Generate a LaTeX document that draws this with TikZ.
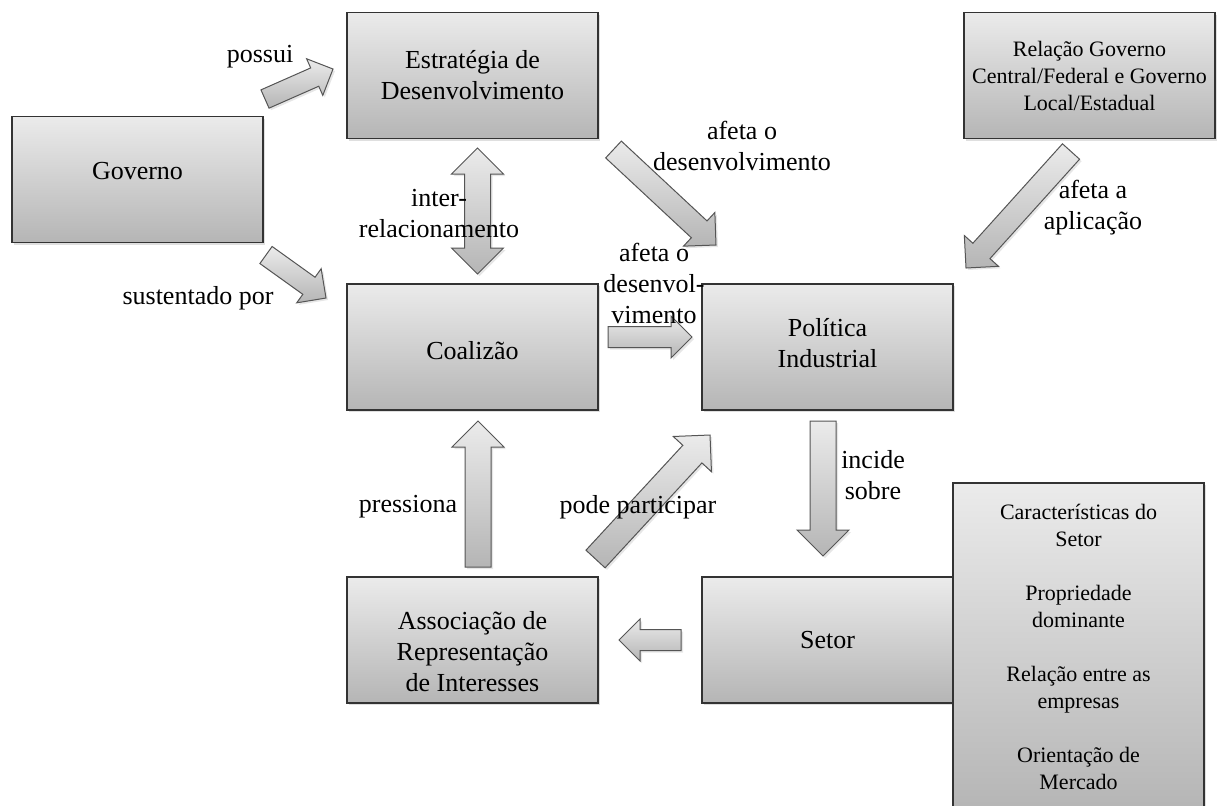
\documentclass[tikz,border=0pt]{standalone}
\usepackage{fontspec}
\setmainfont{Liberation Serif}
\usetikzlibrary{calc,shadows}
\definecolor{boxtop}{HTML}{EBEBEB}
\definecolor{boxbot}{HTML}{B5B5B5}
\definecolor{boxline}{HTML}{333333}
\definecolor{arrline}{HTML}{555555}
\newcommand{\blockarrow}[3]{%
  \coordinate (hb) at ($(#2)!2*#3!(#1)$);
  \draw[arrowbody] ($(#1)!#3!90:(#2)$) -- ($(hb)!#3!90:(#2)$) -- ($(hb)!2*#3!90:(#2)$)
    -- (#2) -- ($(hb)!2*#3!-90:(#2)$) -- ($(hb)!#3!-90:(#2)$) -- ($(#1)!#3!-90:(#2)$) -- cycle;
}
\newcommand{\doublearrow}[3]{%
  \coordinate (ha) at ($(#1)!2*#3!(#2)$);
  \coordinate (hb) at ($(#2)!2*#3!(#1)$);
  \draw[arrowbody] (#1) -- ($(ha)!2*#3!90:(#2)$) -- ($(ha)!#3!90:(#2)$) -- ($(hb)!#3!90:(#2)$)
    -- ($(hb)!2*#3!90:(#2)$) -- (#2) -- ($(hb)!2*#3!-90:(#2)$) -- ($(hb)!#3!-90:(#2)$)
    -- ($(ha)!#3!-90:(#2)$) -- ($(ha)!2*#3!-90:(#2)$) -- cycle;
}
\begin{document}
\begin{tikzpicture}[x=0.5pt, y=-0.5pt,
  box/.style={draw=boxline, line width=0.75pt, top color=boxtop, bottom color=boxbot,
    minimum width=125.5pt, minimum height=63pt, inner sep=0pt, align=center,
    font=\fontsize{13}{15.5}\selectfont,
    drop shadow={shadow xshift=1.2pt, shadow yshift=-1.2pt, opacity=0.25}},
  smallbox/.style={box, font=\fontsize{11}{13.5}\selectfont},
  arrowbody/.style={draw=arrline, line width=0.5pt, line join=miter, top color=boxtop, bottom color=boxbot,
    drop shadow={shadow xshift=1pt, shadow yshift=-1pt, opacity=0.2}},
  lbl/.style={inner sep=0pt, align=center, font=\fontsize{13}{15.5}\selectfont}]
\clip (0,0) rectangle (1218,805);
\node[box] (estrategia) at (472.5,75.5) {Estratégia de\\Desenvolvimento};
\node[box, label={[lbl, yshift=4pt]center:Governo}] (governo) at (137.5,179.5) {};
\node[box, label={[lbl, yshift=-2pt]center:Coalizão}] (coalizao) at (472.5,347) {};
\node[box, label={[lbl, yshift=2pt]center:{Política\\Industrial}}] (politica) at (827.5,347) {};
\node[smallbox] (relacao) at (1089.5,75.5) {Relação Governo\\Central/Federal e Governo\\Local/Estadual};
\node[box, label={[lbl, yshift=-6pt]center:{Associação de\\Representação\\de Interesses}}] (associacao) at (472.5,640) {};
\node[box] (setor) at (827.5,640) {Setor};
\node[smallbox, minimum height=164pt] (caracteristicas) at (1078.5,647)
  {Características do\\Setor\\[13.5pt]Propriedade\\dominante\\[13.5pt]Relação entre as\\empresas\\[13.5pt]Orientação de\\Mercado};
\coordinate (possui-a) at (265,99);
\coordinate (possui-b) at (333,69);
\coordinate (sust-a) at (266,255);
\coordinate (sust-b) at (326,298);
\coordinate (inter-a) at (477.5,148);
\coordinate (inter-b) at (477.5,274);
\coordinate (afeta-a) at (613.5,149.5);
\coordinate (afeta-b) at (716,245);
\coordinate (aplic-a) at (1071,151.5);
\coordinate (aplic-b) at (966,268);
\coordinate (desenv-a) at (608,337);
\coordinate (desenv-b) at (692,337);
\coordinate (press-a) at (478,567);
\coordinate (press-b) at (478,421);
\coordinate (pode-a) at (595.5,559);
\coordinate (pode-b) at (710,435);
\coordinate (incide-a) at (823,421);
\coordinate (incide-b) at (823,556);
\coordinate (setor-a) at (681,640);
\coordinate (setor-b) at (619,640);
\blockarrow{possui-a}{possui-b}{5pt}
\blockarrow{sust-a}{sust-b}{5.25pt}
\doublearrow{inter-a}{inter-b}{6.5pt}
\blockarrow{afeta-a}{afeta-b}{5.75pt}
\blockarrow{aplic-a}{aplic-b}{5.75pt}
\blockarrow{desenv-a}{desenv-b}{5.25pt}
\blockarrow{press-a}{press-b}{6.5pt}
\blockarrow{pode-a}{pode-b}{6.5pt}
\blockarrow{incide-a}{incide-b}{6.5pt}
\blockarrow{setor-a}{setor-b}{5.25pt}
\node[lbl] (l-possui) at (260,57) {possui};
\node[lbl] (l-sust) at (198,298) {sustentado por};
\node[lbl] (l-inter) at (439,214) {inter-\\relacionamento};
\node[lbl] (l-afeta) at (742,146) {afeta o\\desenvolvimento};
\node[lbl] (l-aplic) at (1093,208) {afeta a\\aplicação};
\node[lbl] (l-desenv) at (654,283) {afeta o\\desenvol-\\vimento};
\node[lbl] (l-press) at (408,507) {pressiona};
\node[lbl] (l-pode) at (638,507) {pode participar};
\node[lbl] (l-incide) at (873,475) {incide\\sobre};
\end{tikzpicture}
\end{document}
